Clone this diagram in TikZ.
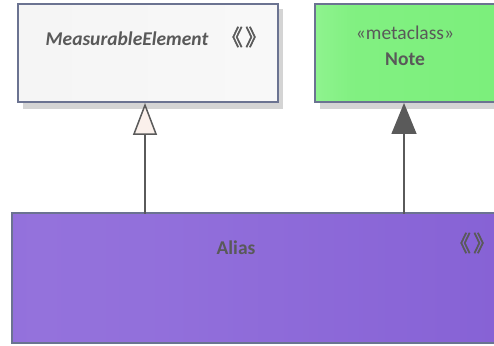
\documentclass[tikz,border=0pt]{standalone}
\usepackage{fontspec}
\setmainfont{Carlito}
\newfontfamily\cjkfont{Noto Sans CJK SC}[AutoFakeBold=2]
\usetikzlibrary{arrows.meta,shadows}
\definecolor{txt}{HTML}{595959}
\definecolor{bord}{HTML}{6B7391}
\definecolor{shad}{HTML}{D4D4D4}
\definecolor{lnc}{HTML}{5A5A5A}
\definecolor{genfill}{HTML}{FAF0EB}
\pgfdeclarehorizontalshading{meshade}{100bp}{color(0bp)=(white!92!black); color(25bp)=(white!96!black); color(100bp)=(white!98!black)}
\definecolor{grA}{HTML}{78EE78}
\definecolor{grB}{HTML}{98F598}
\pgfdeclarehorizontalshading{noteshade}{100bp}{color(0bp)=(grA); color(18bp)=(grB); color(35bp)=(grA!70!grB); color(100bp)=(grA)}
\definecolor{purA}{HTML}{7E58D1}
\definecolor{purB}{HTML}{9472DC}
\pgfdeclarehorizontalshading{alshade}{100bp}{color(0bp)=(purA); color(27bp)=(purB); color(40bp)=(purB!90!purA); color(100bp)=(purA)}
\tikzset{
  classbox/.style={draw=bord, line width=1.6pt, inner sep=0pt, anchor=south west},
  lbl/.style={text=txt, font=\fontsize{19.5}{22}\selectfont, inner sep=0pt},
  guil/.style={text=txt, font=\cjkfont\bfseries\fontsize{22}{24}\selectfont, inner sep=0pt},
  conn/.style={draw=lnc, line width=1.5pt},
}
\newcommand{\dguil}{\hspace{-0.45em}《\hspace{0.1em}》\hspace{-0.45em}}
\begin{document}
\begin{tikzpicture}[x=1pt,y=1pt]
\useasboundingbox (0,0) rectangle (494,345);
% shadows
\fill[shad] (23,236) rectangle (283,336);
\fill[shad] (320,236) rectangle (500,336);
% boxes
\node[classbox, shading=meshade, minimum width=260pt, minimum height=98pt] (me) at (17,242) {};
\node[classbox, shading=noteshade, minimum width=184pt, minimum height=98pt] (note) at (314,242) {};
\node[classbox, shading=alshade, minimum width=492pt, minimum height=130pt] (alias) at (11,1) {};
% texts
\node[lbl, font=\fontsize{19.5}{22}\selectfont\bfseries\itshape] (metxt) at (127,306) {MeasurableElement};
\node[guil] (meg) at (249,308) {\dguil};
\node[lbl] (nst) at (405,312) {«metaclass»};
\node[lbl, font=\fontsize{19.5}{22}\selectfont\bfseries] (ntxt) at (405,286) {Note};
\node[lbl, font=\fontsize{19.5}{22}\selectfont\bfseries] (atxt) at (236,97) {Alias};
\node[guil] (ag) at (477,102) {\dguil};
% connectors
\coordinate (c1) at (145,131);
\coordinate (c2) at (404,131);
\draw[conn, -{Triangle[open, length=32pt, width=24pt, fill=genfill, line width=1.5pt]}] (c1) -- (c1 |- me.south);
\draw[conn, -{Triangle[length=31pt, width=25pt, fill=lnc]}] (c2) -- (c2 |- note.south);
\end{tikzpicture}
\end{document}
